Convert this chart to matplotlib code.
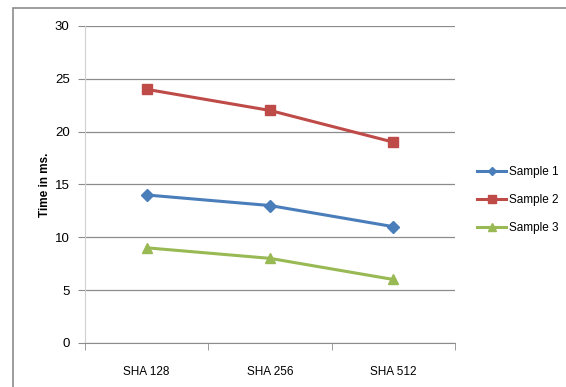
import matplotlib.pyplot as plt
from matplotlib.patches import Rectangle

categories = ['SHA 128', 'SHA 256', 'SHA 512']
sample1 = [14, 13, 11]
sample2 = [24, 22, 19]
sample3 = [9, 8, 6]
yticks = [0, 5, 10, 15, 20, 25, 30]

plt.rcParams['font.family'] = ['Liberation Sans', 'DejaVu Sans']

fig = plt.figure(figsize=(5.66, 3.87), dpi=100)
ax = fig.add_axes([0.150, 0.114, 0.654, 0.819])

# outer chart border (cut off on the right and bottom)
fig.patches.append(Rectangle((13 / 566, -0.05), 1.0, 1 - 8 / 387 + 0.05,
                             transform=fig.transFigure, fill=False,
                             edgecolor='#8c8c8c', linewidth=1.2))

x = list(range(len(categories)))
ax.plot(x, sample1, color='#4a7ebb', lw=2.2, marker='D', ms=6, label='Sample 1')
ax.plot(x, sample2, color='#be4b48', lw=2.2, marker='s', ms=7.5, label='Sample 2')
ax.plot(x, sample3, color='#98b954', lw=2.2, marker='^', ms=7.5, label='Sample 3')

ax.set_xlim(-0.5, 2.5)
ax.set_ylim(0, 30)
ax.set_yticks(yticks)
ax.set_xticks(x)
ax.set_xticklabels(categories)
ax.set_xticks([-0.5, 0.5, 1.5, 2.5], minor=True)
ax.tick_params(axis='x', which='major', length=0, pad=17, labelsize=8.5)
ax.tick_params(axis='x', which='minor', length=5, color='#8c8c8c', direction='out')
ax.tick_params(axis='y', length=5, color='#8c8c8c', labelsize=9.5, pad=6)
ax.yaxis.grid(True, color='#8c8c8c', lw=0.9)
ax.set_axisbelow(True)

for s in ['top', 'right']:
    ax.spines[s].set_visible(False)
ax.spines['left'].set_color('#d0d0d0')
ax.spines['bottom'].set_color('#8c8c8c')

ax.set_ylabel('Time in ms.', fontweight='bold', fontsize=8.5, labelpad=3)

ax.legend(loc='center left', bbox_to_anchor=(1.03, 0.45), frameon=False,
          fontsize=8.5, handlelength=2.5, labelspacing=1.35, handletextpad=0.2,
          markerscale=0.75)

fig.savefig('out.png', dpi=100)
